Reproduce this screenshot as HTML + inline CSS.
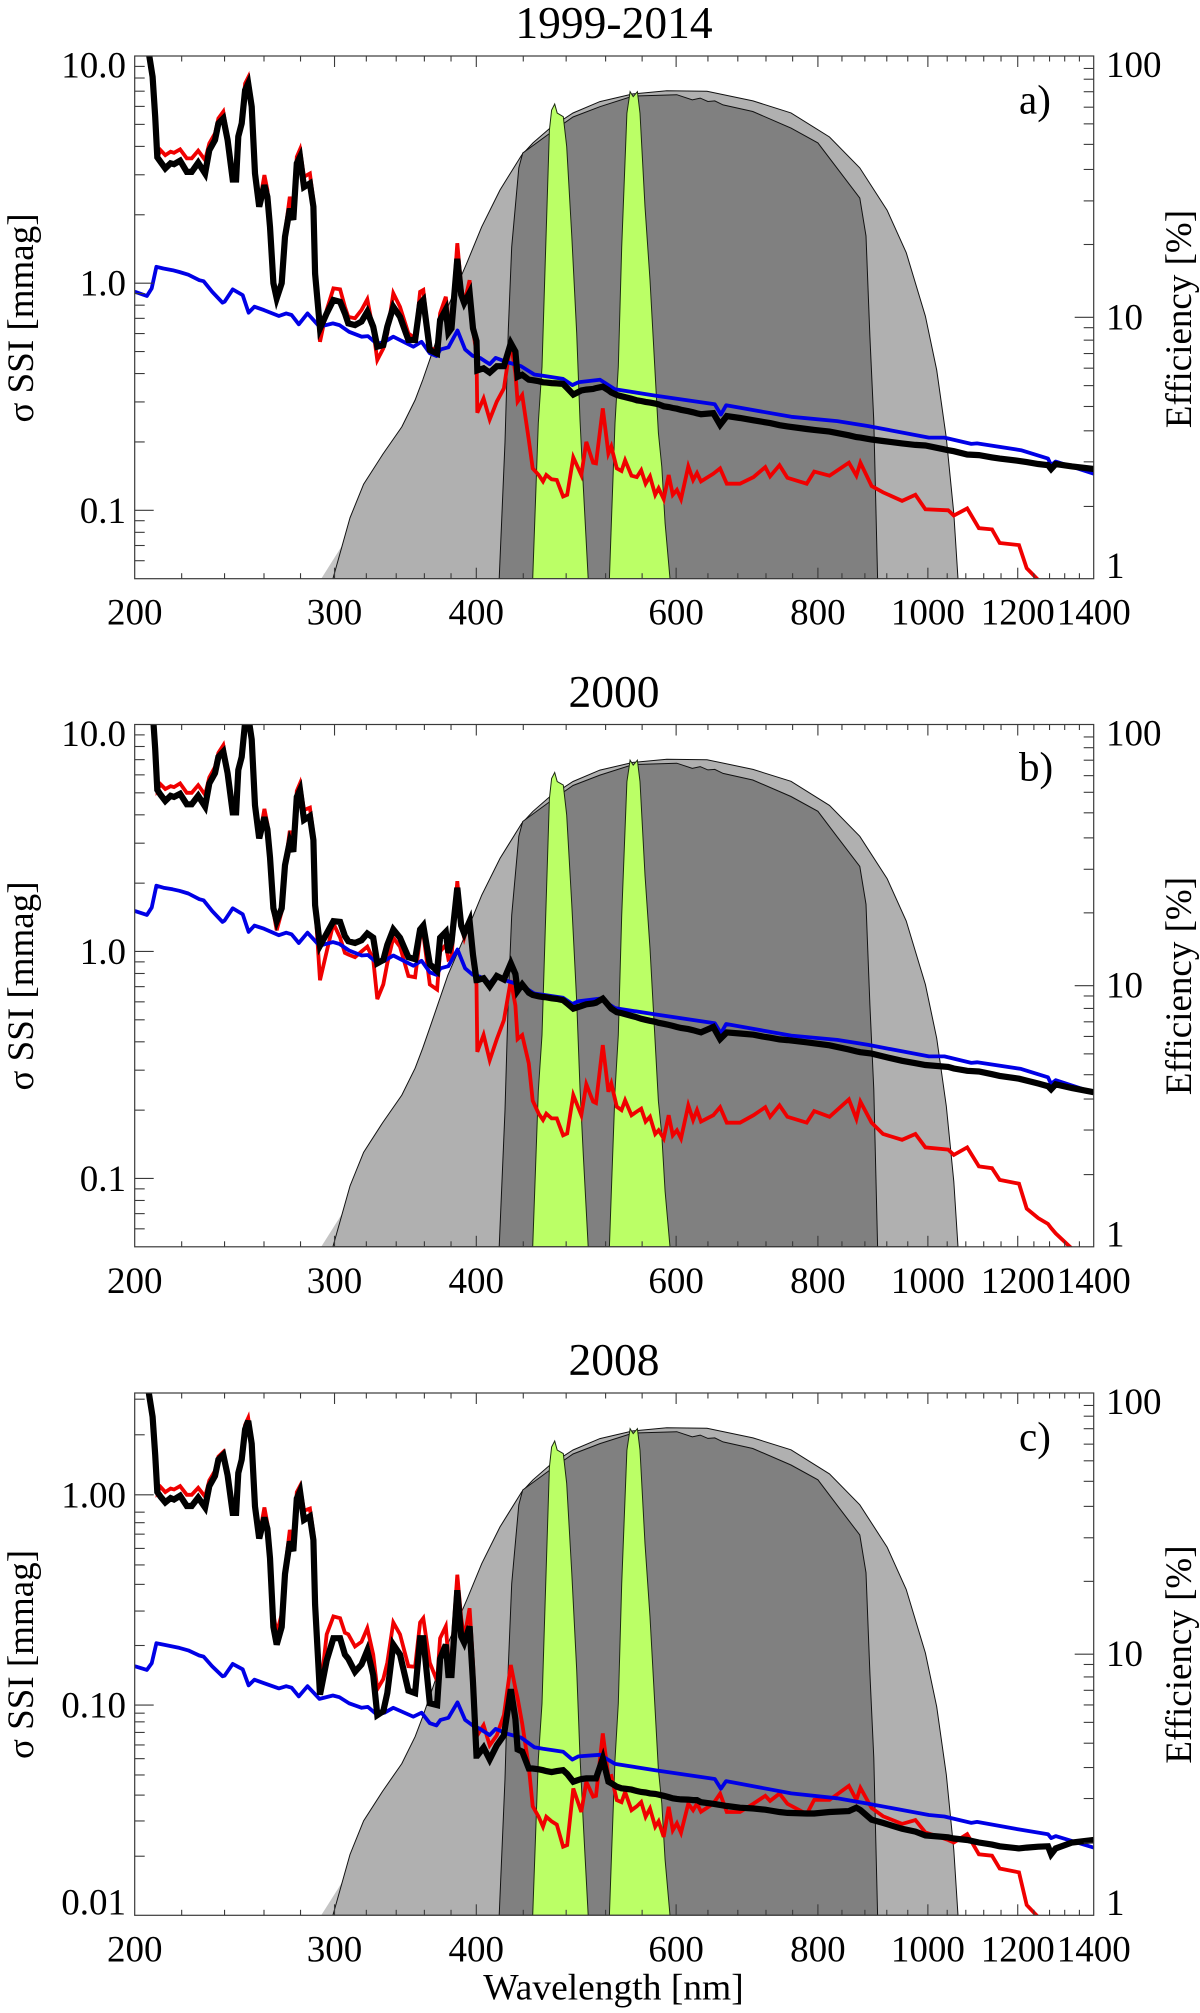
<!DOCTYPE html>
<html lang="en">
<head>
<meta charset="utf-8">
<title>SSI uncertainty and filter efficiency</title>
<style>
html,body{margin:0;padding:0;background:#fff;width:1200px;height:2013px;overflow:hidden}
svg{display:block}
text{font-family:"Liberation Serif","Noto Serif CJK SC",serif;fill:#000}
</style>
</head>
<body>
<svg id="figure" xmlns="http://www.w3.org/2000/svg" width="1200" height="2013" viewBox="0 0 1200 2013">
  <rect x="0" y="0" width="1200" height="2013" fill="#fff"/>
  <text x="614" y="38" font-size="45.5" text-anchor="middle">1999-2014</text>
  <text x="614" y="707" font-size="45.5" text-anchor="middle">2000</text>
  <text x="614" y="1375" font-size="45.5" text-anchor="middle">2008</text>
  <text transform="translate(33,318) rotate(-90)" font-size="37" text-anchor="middle">σ SSI [mmag]</text>
  <text transform="translate(33,986) rotate(-90)" font-size="37" text-anchor="middle">σ SSI [mmag]</text>
  <text transform="translate(33,1654.5) rotate(-90)" font-size="37" text-anchor="middle">σ SSI [mmag]</text>
  <text transform="translate(1191,319) rotate(-90)" font-size="37" text-anchor="middle">Efficiency [%]</text>
  <text transform="translate(1191,986) rotate(-90)" font-size="37" text-anchor="middle">Efficiency [%]</text>
  <text transform="translate(1191,1654.5) rotate(-90)" font-size="37" text-anchor="middle">Efficiency [%]</text>
  <text x="1019" y="113.6" font-size="41">a)</text>
  <text x="1019" y="780.7" font-size="41">b)</text>
  <text x="1019" y="1450.6" font-size="41">c)</text>
  <text x="613.5" y="1999.7" font-size="37.5" text-anchor="middle">Wavelength [nm]</text>
</svg>
<script>
// ---- Shared wavelength grid for red and black curves (nm)
const wavelengthNm = [
204,206,207.4,208.5,209.4,210.8,212.8,215.1,216.6,219.3,222.3,224.5,227.5,230.7,
232.7,235.4,237,239.4,241.5,244,245.7,246.8,248.5,250.2,251.8,253.6,255.3,257.5,
260.2,261.8,263.2,265,266.8,269.5,271.3,274,275.9,277.9,279.7,282,285.4,287.4,288.4,
291.3,295.3,299.3,303.4,306.4,308.5,312.7,316.9,320.6,324.5,327.2,331.2,333.9,338,342.6,
348.5,353.3,356.9,359.2,364,369.4,371.7,376,378,380.4,384.9,387.9,390.3,394.6,397.3,
400.2,400.8,406,411,417,423,429,433,435,439,445,448.5,454,458,461,
466,471,477,481,487,495,500,507,510,517,523,526,532,537,541,
548,554,559,564,569,575,579,585,591,596,601,606,615,621,626,
631,647,656,665,683,702,719,726,740,752,782,794,819,852,865,
872,892,913,949,975,995,1042,1054,1083,1109,1139,1157,1203,1222,1251,
1276,1284,1296,1340,1400];

// ---- Panel a: 1999-2014
const blackA = [
14,10,8.1,5.4,3.58,3.42,3.2,3.37,3.34,3.46,3.09,3.09,3.39,3.04,
3.85,4.27,5.05,5.31,4.27,2.86,2.86,4.42,5.05,7.08,7.57,5.98,3.04,2.17,
2.7,2.4,1.77,1.0,.857,1.0,1.6,2.13,1.9,3.37,3.6,2.65,2.75,2.17,1.1,
.632,.736,.843,.828,.736,.665,.654,.677,.748,.643,.525,.534,.643,.787,.711,
.562,.562,.814,.843,.508,.49,.689,.766,.605,.632,1.28,.889,.817,.908,.632,
.556,.413,.422,.404,.431,.431,.544,.5,.387,.395,.376,.374,.37,.366,.365,
.363,.362,.36,.345,.323,.337,.34,.342,.345,.35,.338,.33,.322,.318,.315,
.31,.305,.303,.30,.298,.295,.293,.287,.285,.282,.28,.277,.273,.27,.267,
.265,.268,.238,.26,.255,.249,.244,.242,.237,.234,.228,.226,.222,.214,.21,
.209,.205,.202,.197,.194,.193,.184,.182,.176,.175,.171,.169,.165,.163,.16,
.158,.152,.16,.156,.152];
const redA = [
14,10,8.1,5.4,3.58,3.85,3.66,3.79,3.75,3.88,3.54,3.54,3.83,3.48,
4.12,4.56,5.31,5.69,4.42,2.94,2.92,4.56,5.23,7.57,8.05,6.08,3.15,2.21,
2.99,2.57,1.83,1.03,.871,1.03,1.66,2.4,2.03,3.6,3.88,2.94,3.04,2.32,1.14,
.552,.762,.948,.94,.787,.711,.7,.762,.849,.622,.459,.516,.601,.902,.787,
.601,.571,.916,.933,.516,.508,.736,.871,.689,.643,1.5,.964,.814,1.03,.622,
.49,.269,.311,.251,.301,.344,.552,.401,.301,.322,.204,.153,.143,.134,.143,
.137,.136,.115,.117,.171,.143,.2,.162,.161,.281,.178,.191,.153,.149,.166,
.142,.14,.15,.131,.141,.117,.125,.112,.143,.117,.123,.112,.156,.136,.146,
.134,.145,.153,.131,.131,.14,.155,.141,.158,.139,.131,.148,.142,.162,.142,
.162,.128,.12,.11,.117,.101,.1,.0948,.102,.0834,.0824,.0718,.0703,.0556,.0494,
.045,.044,.042,.035,.03];

// ---- Panel b: 2000
const blackB = [
20,14.5,11.6,7.8,5.15,4.9,4.6,4.85,4.8,4.95,4.45,4.45,4.85,4.35,
5.5,6.1,7.2,7.6,6.1,4.1,4.1,6.3,7.2,10.2,10.9,8.6,4.4,3.15,
3.9,3.45,2.6,1.55,1.36,1.55,2.4,3.05,2.75,4.8,5.15,3.8,3.95,3.1,1.6,
1.06,1.2,1.36,1.35,1.17,1.11,1.09,1.12,1.2,1.15,.887,.917,1.07,1.25,1.15,
.944,.925,1.25,1.3,.879,.82,1.15,1.22,.986,1.1,1.91,1.3,1.2,1.36,.966,
.747,.747,.763,.701,.78,.753,.887,.796,.671,.716,.658,.643,.635,.63,.628,
.622,.618,.61,.59,.56,.575,.585,.59,.595,.62,.58,.56,.54,.535,.53,
.52,.513,.505,.5,.495,.49,.485,.48,.475,.47,.465,.46,.455,.45,.445,
.44,.465,.411,.44,.435,.43,.42,.417,.41,.407,.398,.394,.386,.37,.363,
.36,.355,.345,.33,.322,.316,.31,.305,.298,.296,.288,.283,.275,.27,.262,
.255,.247,.26,.25,.24];
const redB = [
20,14.5,11.6,7.8,5.15,5.45,5.2,5.35,5.3,5.5,5.0,5.0,5.4,4.9,
5.85,6.5,7.5,8.1,6.3,4.2,4.15,6.5,7.4,10.7,11.4,8.6,4.5,3.15,
4.25,3.65,2.6,1.5,1.24,1.5,2.35,3.4,2.9,5.1,5.5,4.2,4.3,3.3,1.62,
.747,1.0,1.33,1.15,.986,.97,.944,1.0,1.05,.925,.617,.716,.887,1.15,1.05,
.78,.77,1.15,1.2,.716,.68,1.0,1.07,.925,.944,2.04,1.3,1.15,1.39,.887,
.716,.361,.429,.332,.411,.498,.747,.578,.411,.428,.321,.22,.193,.181,.193,
.184,.184,.155,.158,.233,.19,.26,.218,.215,.387,.241,.262,.207,.2,.221,
.19,.197,.203,.178,.187,.157,.163,.15,.19,.155,.163,.15,.21,.181,.2,
.178,.19,.206,.176,.176,.19,.206,.187,.21,.187,.176,.198,.187,.223,.183,
.218,.176,.157,.148,.157,.137,.134,.127,.137,.113,.111,.0986,.0948,.0737,.0669,
.0631,.0605,.0573,.049,.04];

// ---- Panel c: 2008
const blackC = [
4.2,2.95,2.35,1.55,1.03,.98,.92,.965,.95,.99,.885,.885,.97,.87,
1.1,1.23,1.47,1.55,1.24,.82,.82,1.27,1.47,2.05,2.25,1.75,.88,.62,
.78,.69,.5,.235,.194,.235,.42,.6,.54,.96,1.04,.76,.79,.61,.3,
.112,.163,.208,.208,.174,.166,.144,.156,.182,.139,.0896,.0935,.114,.194,.174,
.117,.114,.208,.208,.102,.1,.166,.194,.139,.139,.352,.212,.198,.237,.128,
.0575,.0575,.0628,.0551,.0643,.0718,.119,.0857,.0615,.0601,.0499,.0499,.0495,.049,.0485,
.048,.0485,.049,.047,.0432,.0445,.0448,.0448,.0448,.0557,.0432,.0425,.0409,.0402,.04,
.0396,.039,.0386,.0384,.038,.0378,.0375,.037,.0365,.036,.0358,.0356,.0355,.0353,.0353,
.0345,.0339,.0335,.0331,.0325,.0322,.0318,.0315,.031,.0307,.0305,.0305,.031,.0313,.0325,
.0317,.0285,.0275,.0258,.025,.024,.0235,.0232,.0228,.0222,.0217,.0213,.0208,.021,.0212,
.0213,.0195,.0208,.0222,.0228];
const redC = [
4.2,2.95,2.35,1.55,1.03,1.09,1.03,1.07,1.06,1.1,1.0,1.0,1.08,.98,
1.17,1.3,1.52,1.6,1.27,.83,.82,1.3,1.5,2.15,2.32,1.78,.9,.63,
.87,.73,.52,.27,.22,.27,.44,.68,.58,1.03,1.1,.84,.86,.66,.32,
.112,.217,.264,.259,.221,.217,.19,.2,.232,.174,.119,.133,.159,.247,.217,
.153,.152,.247,.259,.159,.13,.208,.237,.166,.166,.417,.259,.208,.289,.159,
.0718,.0718,.0802,.0643,.0718,.0896,.155,.12,.108,.0817,.0508,.033,.0294,.0264,.0294,
.028,.027,.0212,.0216,.0401,.031,.0432,.0367,.037,.0733,.0456,.046,.0353,.0345,.0386,
.0316,.033,.0346,.0294,.0322,.0264,.028,.0236,.0328,.0254,.0274,.0247,.034,.0316,.034,
.0311,.034,.0379,.031,.031,.034,.037,.035,.0379,.0339,.0303,.0354,.0354,.0413,.0354,
.0404,.0324,.0296,.0272,.0284,.0248,.0228,.0222,.0243,.0195,.0192,.0167,.016,.0112,.0098,
.009,.0088,.0085,.007,.006];

// ---- Blue curve grid and values
const blueNm = [200,205,207,209,212,216,219,223,228,230,234,239,240,244,249,252,255,260,268,272,275,279,284,291,299,303,309,317,321,327,332,338,352,358,364,369,372,378,385,391,397,403,411,416,426,438,450,458,477,486,492,514,530,575,649,657,664,758,832,885,1002,1034,1092,1105,1208,1276,1284,1296,1400];
const blueA = [.917,.878,.948,1.18,1.16,1.14,1.12,1.09,1.03,1.02,.917,.82,.829,.939,.886,.741,.788,.761,.717,.736,.724,.659,.736,.643,.665,.654,.611,.581,.585,.54,.552,.581,.525,.552,.491,.478,.511,.522,.619,.511,.479,.469,.44,.469,.449,.431,.396,.391,.379,.356,.366,.376,.341,.32,.293,.264,.29,.258,.247,.235,.209,.209,.196,.197,.184,.169,.158,.164,.145];
const blueB = [1.51,1.45,1.56,1.95,1.91,1.88,1.85,1.80,1.70,1.68,1.51,1.35,1.37,1.55,1.46,1.22,1.30,1.26,1.18,1.21,1.19,1.09,1.21,1.06,1.10,1.08,1.01,.96,.965,.89,.91,.96,.866,.91,.81,.789,.843,.861,1.02,.843,.79,.774,.726,.774,.741,.711,.653,.645,.625,.587,.604,.62,.563,.528,.483,.436,.479,.426,.408,.388,.345,.345,.323,.325,.304,.279,.261,.271,.239];
const blueC = [.153,.147,.158,.197,.194,.19,.187,.182,.172,.17,.153,.137,.138,.157,.148,.124,.132,.127,.12,.123,.121,.11,.123,.107,.111,.109,.102,.097,.098,.09,.092,.097,.088,.092,.082,.08,.085,.087,.103,.085,.08,.077,.072,.077,.073,.07,.063,.062,.06,.055,.057,.058,.0525,.049,.0445,.04,.0435,.038,.036,.034,.03,.0295,.0275,.0278,.0255,.0243,.0233,.0238,.021];

// ---- Efficiency curves (%)
const wedgeNm = [292,305,305];
const wedgeEff = [1,1.35,1];
const lightNm = [299,309.6,318.2,330.8,343.9,353.3,358.8,364.4,377.5,392.3,404.4,419.7,438.6,448.8,464.5,486.7,514,549.7,588.7,638.8,701.3,757.5,819,871,920.5,957,995,1018,1038,1054,1063];
const lightEff = [1,1.71,2.3,2.99,3.81,4.83,5.76,7,10.96,16.1,22.2,30.7,41.8,46.5,53,60.5,66.9,71.6,73.6,73.3,67.3,60.6,49,37.3,25.7,17.7,10.1,6.29,3.46,1.78,1];
const darkNm = [419,424,426.8,429.8,436,439.5,464.5,486.7,514,550,600.8,620,630,640,649,660,701,757.5,800,831.7,871,882,889,896,903];
const darkEff = [1,3.33,8.95,18.6,37.3,42.5,50.7,58.4,64,70.3,71.1,67.9,69,67,67.3,65,61.3,53,46.5,37.2,28.6,20.5,8.43,4,1];
const greenOneNm = [448.5,452,453.6,457,460,464,466,469,471.4,477.2,480.5,485.5,490.4,493.7,497,502];
const greenOneEff = [1,2.54,3.94,6.47,16.1,52,62.1,65.5,60.5,58.6,45,20.4,8.7,4.05,2.25,1];
const greenTwoNm = [524,526.5,530,533.6,537.3,543,546.5,550,554.6,557.6,563.3,569,572.9,578.8,582.8,586.7,592.6];
const greenTwoEff = [1,1.78,3.94,6.47,18.6,60.4,73,69.9,73,60.4,26.5,13.9,8.2,3.61,2.68,1.63,1];

// ---- Tick values and labels
const xTickLabels = [200,300,400,600,800,1000,1200,1400];
const xLongTicks = [300,400,600,800,1000,1200];
const xShortTicks = [220,240,260,280,320,340,360,380,440,480,520,560,640,680,720,760,840,880,920,960,1040,1080,1120,1160,1240,1280,1320,1360];
const sigmaMinorTicksAB = [.06,.07,.08,.09,.2,.3,.4,.5,.6,.7,.8,.9,2,3,4,5,6,7,8,9];
const sigmaMajorTicksAB = [.1,1];
const sigmaLabelsAB = ["0.1","1.0","10.0"];
const sigmaLabelValuesAB = [.1,1,10];
const sigmaMinorTicksC = [.0191,.0281,.0373,.0465,.0556,.0646,.0741,.0832,.0915,.192,.28,.375,.464,.556,.65,.737,.827,1.93,2.85];
const sigmaMajorTicksC = [.1,1];
const sigmaLabelsC = ["0.01","0.10","1.00"];
const sigmaLabelValuesC = [.01,.1,1];
const effMinorTicks = [1.89,2.8,3.68,4.56,5.48,6.39,7.27,8.18,9.13,19,27.9,36.8,45.9,55,63.7,73,81.5,89.6];
const effMajorTicks = [10];
const effLabels = ["1","10","100"];
const effLabelValues = [1,10,100];

// ---- Axis functions
const LEFT = 134.7, RIGHT = 1093.7, INK = "#3a3a3a";
const X_MIN = 200, X_MAX = 1400;
function xScale(nm) {
  return LEFT + (RIGHT - LEFT) * Math.log(nm / X_MIN) / Math.log(X_MAX / X_MIN);
}
function logScale(v, lo, hi, top, bottom) {
  return bottom - (bottom - top) * Math.log(v / lo) / Math.log(hi / lo);
}
const SVGNS = "http://www.w3.org/2000/svg";
const figure = document.getElementById("figure");
function make(parent, tag, attrs) {
  const el = document.createElementNS(SVGNS, tag);
  for (const k in attrs) el.setAttribute(k, attrs[k]);
  parent.appendChild(el);
  return el;
}
function pointsOf(nm, vals, yFn) {
  const out = [];
  const n = Math.min(nm.length, vals.length);
  for (let i = 0; i < n; i++) out.push(xScale(nm[i]).toFixed(1) + "," + yFn(vals[i]).toFixed(1));
  return out.join(" ");
}

const panels = [
  {id: "a", top: 56, bottom: 578.7, lo: .05, hi: 10, black: blackA, red: redA, blue: blueA,
   minor: sigmaMinorTicksAB, major: sigmaMajorTicksAB, labels: sigmaLabelsAB, labelValues: sigmaLabelValuesAB},
  {id: "b", top: 724.5, bottom: 1246.8, lo: .05, hi: 10, black: blackB, red: redB, blue: blueB,
   minor: sigmaMinorTicksAB, major: sigmaMajorTicksAB, labels: sigmaLabelsAB, labelValues: sigmaLabelValuesAB},
  {id: "c", top: 1393, bottom: 1915.3, lo: .01, hi: 3.05, black: blackC, red: redC, blue: blueC,
   minor: sigmaMinorTicksC, major: sigmaMajorTicksC, labels: sigmaLabelsC, labelValues: sigmaLabelValuesC}
];

panels.forEach(function (p) {
  const yL = function (v) { return logScale(v, p.lo, p.hi, p.top, p.bottom); };
  const yR = function (e) { return logScale(e, 1, 100, p.top, p.bottom); };

  const group = make(figure, "g", {});
  
  

  const clip = make(group, "clipPath", {id: "clip-" + p.id});
  
  
  const clipRect = make(clip, "rect", {x: LEFT, y: p.top, width: RIGHT - LEFT, height: p.bottom - p.top});
  
  

  const plot = make(group, "g", {"clip-path": "url(#clip-" + p.id + ")"});
  
  

  const wedge = make(plot, "polygon", {points: pointsOf(wedgeNm, wedgeEff, yR), fill: "#c4c4c4"});
  
  

  const light = make(plot, "polygon", {points: pointsOf(lightNm, lightEff, yR), fill: "#b0b0b0", stroke: "#111", "stroke-width": 1});
  
  

  const dark = make(plot, "polygon", {points: pointsOf(darkNm, darkEff, yR), fill: "#808080", stroke: "#111", "stroke-width": 1});
  
  

  const g1 = make(plot, "polygon", {points: pointsOf(greenOneNm, greenOneEff, yR), fill: "#bbff66", stroke: "#1c2a10", "stroke-width": 1});
  
  

  const g2 = make(plot, "polygon", {points: pointsOf(greenTwoNm, greenTwoEff, yR), fill: "#bbff66", stroke: "#1c2a10", "stroke-width": 1});
  
  

  const red = make(plot, "polyline", {points: pointsOf(wavelengthNm, p.red, yL), fill: "none", stroke: "#f00000", "stroke-width": 3.8, "stroke-linejoin": "miter"});
  
  

  const blue = make(plot, "polyline", {points: pointsOf(blueNm, p.blue, yL), fill: "none", stroke: "#0000e6", "stroke-width": 3.8, "stroke-linejoin": "round"});
  
  

  const black = make(plot, "polyline", {points: pointsOf(wavelengthNm, p.black, yL), fill: "none", stroke: "#000", "stroke-width": 6.2, "stroke-linejoin": "miter"});
  
  

  const frame = make(group, "rect", {x: LEFT, y: p.top, width: RIGHT - LEFT, height: p.bottom - p.top, fill: "none", stroke: INK, "stroke-width": 1.2});
  
  

  // x ticks
  xShortTicks.forEach(function (t) {
    const tickTop = make(group, "line", {x1: xScale(t), x2: xScale(t), y1: p.top, y2: p.top + 5.5, stroke: INK, "stroke-width": 1.1});
    
    
    const tickBottom = make(group, "line", {x1: xScale(t), x2: xScale(t), y1: p.bottom, y2: p.bottom - 5.5, stroke: INK, "stroke-width": 1.1});
    
    
  });
  xLongTicks.forEach(function (t) {
    const tickTop = make(group, "line", {x1: xScale(t), x2: xScale(t), y1: p.top, y2: p.top + 11, stroke: INK, "stroke-width": 1.1});
    
    
    const tickBottom = make(group, "line", {x1: xScale(t), x2: xScale(t), y1: p.bottom, y2: p.bottom - 11, stroke: INK, "stroke-width": 1.1});
    
    
  });
  xTickLabels.forEach(function (t) {
    const label = make(group, "text", {x: xScale(t), y: p.bottom + 46, "font-size": 37, "text-anchor": "middle"});
    label.textContent = String(t);
    
    
  });

  // left ticks
  p.minor.forEach(function (t) {
    const tick = make(group, "line", {x1: LEFT, x2: LEFT + 10, y1: yL(t), y2: yL(t), stroke: INK, "stroke-width": 1.1});
    
    
  });
  p.major.forEach(function (t) {
    const tick = make(group, "line", {x1: LEFT, x2: LEFT + 19, y1: yL(t), y2: yL(t), stroke: INK, "stroke-width": 1.1});
    
    
  });
  p.labels.forEach(function (s, i) {
    const yy = yL(p.labelValues[i]);
    let base = yy + 12.5;
    if (yy - p.top < 2) base = p.top + 21.5;
    if (p.bottom - yy < 2) base = p.bottom - 1;
    const label = make(group, "text", {x: 126, y: base, "font-size": 37, "text-anchor": "end"});
    label.textContent = s;
    
    
  });

  // right ticks
  effMinorTicks.forEach(function (t) {
    const tick = make(group, "line", {x1: RIGHT, x2: RIGHT - 10, y1: yR(t), y2: yR(t), stroke: INK, "stroke-width": 1.1});
    
    
  });
  effMajorTicks.forEach(function (t) {
    const tick = make(group, "line", {x1: RIGHT, x2: RIGHT - 19, y1: yR(t), y2: yR(t), stroke: INK, "stroke-width": 1.1});
    
    
  });
  effLabels.forEach(function (s, i) {
    const yy = yR(effLabelValues[i]);
    let base = yy + 12;
    if (yy - p.top < 2) base = p.top + 21;
    if (p.bottom - yy < 2) base = p.bottom - 0.5;
    const label = make(group, "text", {x: 1106, y: base, "font-size": 37, "text-anchor": "start"});
    label.textContent = s;
    
    
  });
});
</script>
</body>
</html>
